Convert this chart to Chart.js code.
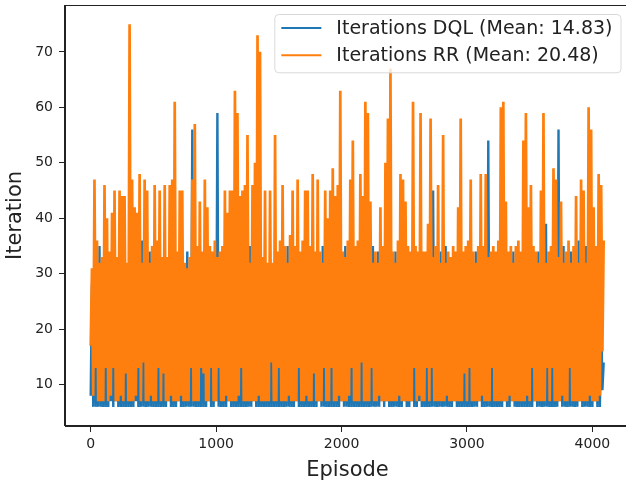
<!DOCTYPE html>
<html>
<head>
<meta charset="utf-8">
<script src="https://cdn.jsdelivr.net/npm/chart.js@4.4.1/dist/chart.umd.min.js"></script>
<style>
  html, body { margin: 0; padding: 0; background: #fff; overflow: hidden; }
  #iterChart { position: absolute; left: 0; top: 0; }
</style>
</head>
<body>
<canvas id="iterChart" width="640" height="485"></canvas>
<script>
// Iterations per episode, one value every episodeStep episodes
var episodeStep = 10;

// DQL agent
var dqlIterations = [
  8, 28, 6, 30, 6, 22, 6, 35, 6, 24,
  6, 21, 6, 26, 6, 19, 7, 25, 6, 23,
  7, 27, 6, 20, 6, 24, 6, 22, 6, 26,
  6, 23, 6, 28, 6, 21, 7, 25, 6, 20,
  6, 36, 6, 24, 6, 22, 6, 34, 6, 27,
  6, 25, 6, 21, 6, 26, 6, 23, 6, 19,
  6, 24, 7, 27, 6, 22, 6, 25, 6, 21,
  7, 26, 6, 23, 6, 28, 6, 34, 6, 24,
  6, 56, 6, 22, 6, 25, 6, 20, 6, 27,
  6, 23, 6, 26, 7, 21, 6, 24, 6, 22,
  7, 59, 6, 25, 6, 20, 6, 27, 6, 23,
  7, 22, 6, 24, 6, 26, 6, 21, 6, 25,
  6, 27, 6, 23, 6, 22, 6, 35, 6, 24,
  7, 21, 6, 25, 6, 28, 6, 23, 6, 20,
  6, 26, 6, 22, 6, 24, 6, 27, 6, 21,
  6, 23, 6, 25, 6, 20, 6, 35, 6, 26,
  6, 24, 6, 21, 7, 27, 6, 23, 6, 25,
  6, 22, 6, 26, 6, 24, 6, 20, 6, 27,
  6, 25, 7, 23, 6, 35, 6, 22, 6, 24,
  6, 21, 6, 27, 6, 25, 6, 23, 6, 26,
  7, 24, 6, 35, 6, 22, 6, 26, 6, 21,
  6, 27, 6, 23, 6, 25, 6, 20, 6, 24,
  6, 22, 6, 26, 6, 35, 6, 23, 6, 34,
  6, 25, 7, 21, 6, 27, 7, 24, 6, 22,
  6, 23, 6, 34, 6, 25, 6, 21, 6, 26,
  7, 24, 6, 22, 6, 27, 7, 23, 6, 25,
  6, 21, 7, 26, 6, 24, 6, 22, 6, 27,
  6, 25, 6, 45, 6, 23, 6, 26, 6, 34,
  6, 22, 6, 35, 6, 24, 6, 27, 6, 21,
  7, 26, 6, 23, 6, 25, 6, 22, 6, 24,
  6, 21, 6, 27, 6, 24, 6, 34, 6, 23,
  7, 25, 6, 22, 6, 26, 6, 54, 6, 24,
  6, 23, 6, 27, 6, 21, 6, 25, 6, 22,
  7, 26, 6, 24, 6, 23, 7, 34, 6, 25,
  6, 22, 6, 26, 6, 24, 6, 21, 6, 27,
  6, 25, 6, 23, 7, 22, 6, 34, 6, 24,
  6, 21, 6, 39, 6, 26, 6, 23, 6, 25,
  6, 24, 6, 56, 7, 22, 6, 35, 6, 23,
  6, 26, 6, 34, 6, 25, 6, 22, 6, 36,
  7, 23, 6, 27, 6, 35, 6, 24, 6, 22,
  6, 25, 7, 21, 6, 26, 6, 23, 9, 14
];

// round-robin baseline
var rrIterations = [
  17, 31, 8, 47, 13, 36, 7, 32, 7, 33,
  7, 46, 13, 40, 7, 34, 8, 41, 13, 45,
  7, 33, 7, 45, 8, 44, 7, 44, 12, 32,
  7, 75, 7, 47, 7, 42, 8, 41, 13, 48,
  7, 32, 14, 47, 7, 45, 7, 32, 8, 35,
  7, 46, 7, 36, 13, 45, 7, 33, 12, 46,
  7, 33, 7, 46, 8, 47, 7, 61, 7, 34,
  7, 45, 8, 45, 7, 32, 7, 31, 7, 33,
  13, 47, 7, 57, 7, 35, 7, 43, 13, 34,
  12, 47, 7, 42, 7, 35, 13, 34, 7, 36,
  7, 33, 13, 34, 7, 35, 7, 45, 8, 41,
  7, 45, 7, 45, 7, 63, 7, 59, 8, 44,
  13, 45, 7, 46, 7, 55, 7, 32, 7, 46,
  7, 50, 7, 73, 8, 70, 7, 33, 7, 45,
  7, 32, 7, 45, 14, 32, 7, 55, 7, 34,
  13, 36, 7, 46, 7, 35, 7, 32, 8, 37,
  7, 45, 7, 35, 7, 47, 13, 34, 7, 36,
  7, 45, 8, 45, 7, 35, 7, 48, 12, 34,
  7, 47, 7, 34, 7, 32, 13, 45, 7, 40,
  7, 45, 13, 49, 7, 44, 7, 46, 8, 63,
  7, 34, 7, 33, 7, 36, 8, 47, 13, 54,
  7, 35, 7, 36, 7, 48, 14, 44, 7, 61,
  7, 59, 7, 43, 13, 32, 7, 34, 7, 32,
  8, 42, 7, 35, 7, 50, 7, 58, 7, 67,
  7, 34, 7, 32, 7, 36, 8, 48, 7, 47,
  7, 43, 7, 35, 7, 34, 7, 61, 13, 35,
  7, 34, 8, 59, 7, 34, 7, 34, 13, 39,
  7, 58, 13, 33, 7, 35, 7, 46, 7, 32,
  7, 55, 7, 32, 8, 34, 7, 33, 7, 35,
  7, 34, 7, 42, 7, 58, 7, 34, 12, 35,
  7, 36, 13, 47, 7, 34, 7, 32, 7, 35,
  7, 48, 8, 35, 7, 48, 7, 33, 7, 34,
  13, 35, 7, 34, 7, 36, 7, 60, 7, 61,
  7, 43, 7, 34, 8, 35, 7, 32, 7, 35,
  7, 36, 7, 34, 7, 54, 7, 59, 8, 42,
  7, 46, 13, 35, 7, 34, 7, 32, 7, 45,
  7, 59, 7, 32, 13, 34, 7, 35, 13, 49,
  7, 47, 7, 33, 7, 43, 8, 32, 7, 34,
  7, 36, 13, 32, 7, 35, 7, 44, 7, 32,
  7, 47, 7, 45, 7, 32, 7, 60, 8, 56,
  7, 42, 7, 35, 7, 48, 8, 46, 16, 36
];

var seriesLabels = ['Iterations DQL (Mean: 14.83)', 'Iterations RR (Mean: 20.48)'];
var xTicks = [0, 1000, 2000, 3000, 4000];
var yTicks = [10, 20, 30, 40, 50, 60, 70];

function toPoints(values) {
  return values.map(function (v, i) { return { x: i * episodeStep, y: v }; });
}

Chart.defaults.font.family = '"DejaVu Sans", sans-serif';
Chart.defaults.color = '#222';

// box around the axes (top and right sides are not drawn by the scales)
var frame = {
  id: 'frame',
  afterDatasetsDraw: function (chart) {
    var a = chart.chartArea, ctx = chart.ctx;
    ctx.save();
    ctx.strokeStyle = '#222';
    ctx.lineWidth = 1;
    ctx.strokeRect(Math.round(a.left) - 0.5, Math.round(a.top) + 0.5,
      Math.round(a.right - a.left) + 1, Math.round(a.bottom - a.top) - 1);
    ctx.restore();
  }
};

// legend in the upper right corner of the plot
var insetLegend = {
  id: 'insetLegend',
  afterDraw: function (chart) {
    var ctx = chart.ctx, a = chart.chartArea;
    var sets = chart.data.datasets;
    ctx.save();
    ctx.font = '19px "DejaVu Sans"';
    var textW = 0;
    sets.forEach(function (d) { textW = Math.max(textW, ctx.measureText(d.label).width); });
    var right = a.right - 9.5, top = 14, h = 58.3;
    var left = right - (7 + 40 + 15 + textW + 8);
    ctx.beginPath();
    ctx.roundRect(left + 0.5, top + 0.5, right - left, h, 4);
    ctx.fillStyle = 'rgba(255,255,255,0.8)';
    ctx.fill();
    ctx.strokeStyle = '#d9d9d9';
    ctx.lineWidth = 1;
    ctx.stroke();
    sets.forEach(function (d, i) {
      var y = top + 14 + i * 27.3;
      ctx.beginPath();
      ctx.moveTo(left + 7, y);
      ctx.lineTo(left + 47, y);
      ctx.strokeStyle = d.borderColor;
      ctx.lineWidth = 2;
      ctx.stroke();
      ctx.fillStyle = '#222';
      ctx.textBaseline = 'middle';
      ctx.fillText(d.label, left + 62, y + 1);
    });
    ctx.restore();
  }
};

var ctx = document.getElementById('iterChart').getContext('2d');

var myChart = new Chart(ctx, {
  type: 'line',
  data: {
    datasets: [
      {
        label: seriesLabels[0],
        data: toPoints(dqlIterations),
        borderColor: '#1f77b4',
        borderWidth: 2.4,
        pointRadius: 0,
        order: 1
      },
      {
        label: seriesLabels[1],
        data: toPoints(rrIterations),
        borderColor: '#ff7f0e',
        borderWidth: 2.7,
        pointRadius: 0,
        order: 0
      }
    ]
  },
  options: {
    responsive: false,
    animation: false,
    devicePixelRatio: 1,
    layout: { padding: { left: 0, top: 5, right: 10, bottom: 0 } },
    plugins: {
      legend: { display: false },
      tooltip: { enabled: false }
    },
    scales: {
      x: {
        type: 'linear',
        min: -205,
        max: 4300,
        afterBuildTicks: function (scale) {
          scale.ticks = xTicks.map(function (v) { return { value: v }; });
        },
        afterFit: function (scale) {
          scale.height = 59;
          scale.paddingLeft = 0;
          scale.paddingRight = 0;
        },
        grid: { drawOnChartArea: false, drawTicks: true, tickLength: 6, tickColor: '#222' },
        border: { display: true, color: '#222', width: 1 },
        ticks: {
          font: { size: 14 }, color: '#222', padding: 4, maxRotation: 0,
          callback: function (value) { return String(value); }
        },
        title: { display: true, text: 'Episode', font: { size: 21 }, color: '#222', padding: { top: 0, bottom: 2 } }
      },
      y: {
        min: 2.55,
        max: 78.45,
        afterBuildTicks: function (scale) {
          scale.ticks = yTicks.map(function (v) { return { value: v }; });
        },
        afterFit: function (scale) {
          scale.width = 65;
          scale.paddingTop = 0;
          scale.paddingBottom = 0;
        },
        grid: { drawOnChartArea: false, drawTicks: true, tickLength: 6, tickColor: '#222' },
        border: { display: true, color: '#222', width: 1 },
        ticks: { font: { size: 14 }, color: '#222', padding: 6 },
        title: { display: true, text: 'Iteration', font: { size: 21 }, color: '#222', padding: { top: 3, bottom: 0 } }
      }
    }
  },
  plugins: [frame, insetLegend]
});
</script>
</body>
</html>
